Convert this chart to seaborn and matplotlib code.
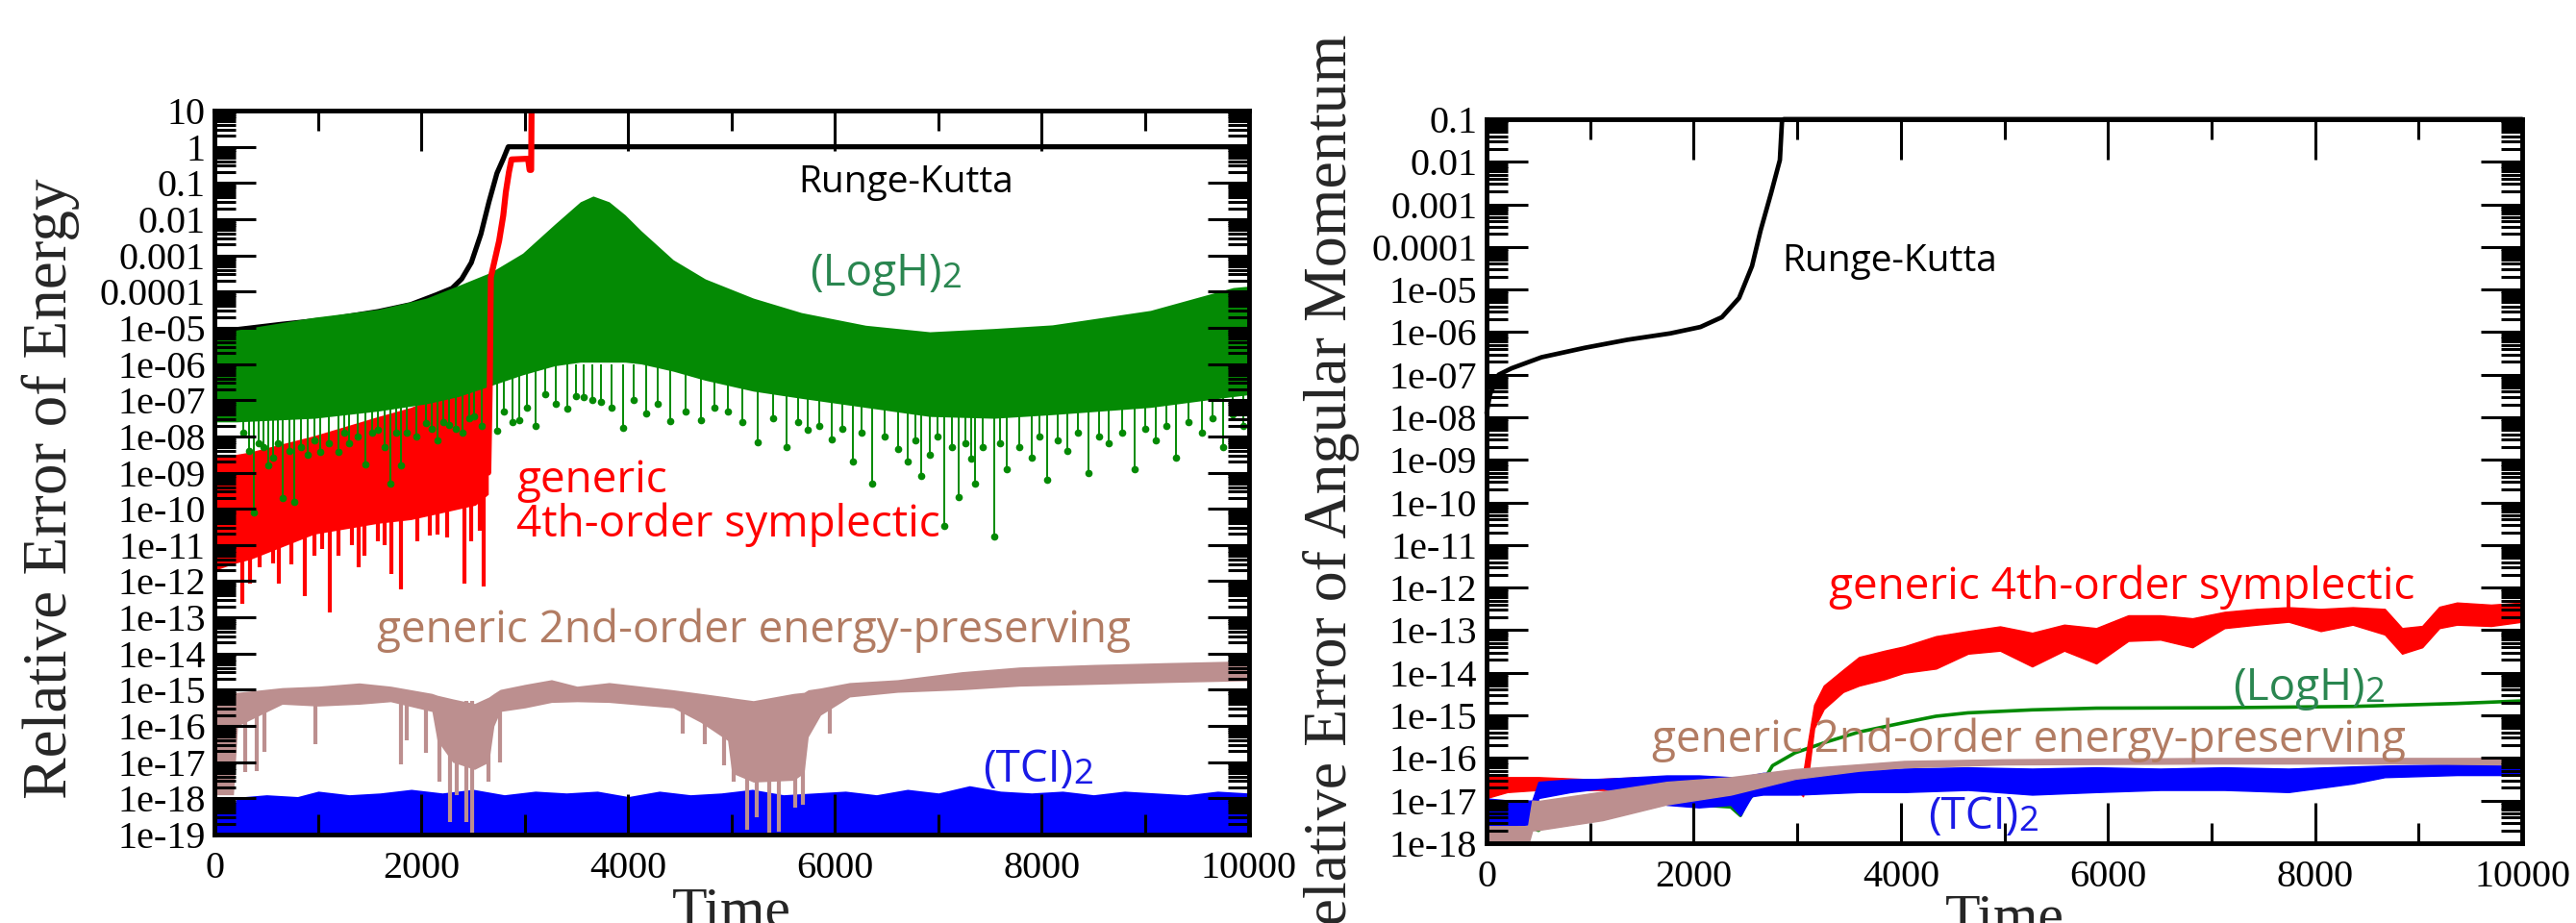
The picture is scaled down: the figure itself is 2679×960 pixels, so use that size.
import numpy as np
import pandas as pd
import seaborn as sns
import matplotlib
matplotlib.use("Agg")
import matplotlib.pyplot as plt
from matplotlib.ticker import FixedLocator, FixedFormatter, MultipleLocator, LogLocator, NullFormatter

# all error values are stored as log10 of the relative error

# ---------------- left panel: relative error of energy ----------------
rk_e_t = [0, 212, 654, 1119, 1584, 1894, 2142, 2295, 2388, 2481, 2574, 2652, 2729, 2791, 2838, 10000]
rk_e_lg = [-5.1, -5.05, -4.90, -4.76, -4.55, -4.36, -4.09, -3.91, -3.65, -3.20, -2.41, -1.52, -0.73, -0.33, 0.0, 0.0]

red_e_t = [0, 200, 340, 960, 1580, 1894, 2210, 2520, 2645]
red_e_hi = [-8.5, -8.5, -8.43, -7.98, -7.45, -7.2, -6.84, -6.57, -6.39]
red_e_lo = [-11.7, -11.5, -11.4, -10.7, -10.4, -10.3, -10.1, -9.9, -9.6]
red_spk_t = [264, 341, 434, 560, 620, 744, 868, 960, 1040, 1116, 1200, 1330, 1395, 1450, 1581,
             1640, 1705, 1798, 1960, 2077, 2150, 2250, 2418, 2480, 2560, 2604]
red_spk_lg = [-12.63, -12.06, -11.62, -11.5, -12.06, -11.53, -12.41, -11.3, -11.1, -12.86, -11.3, -11.0, -11.62, -11.3, -10.9,
              -11.0, -11.79, -12.23, -10.9, -10.73, -10.7, -10.8, -12.06, -10.9, -10.6, -12.15]
red_rise_t = [2645, 2660, 2670, 2750, 2790, 2815, 2845, 2870, 3030, 3045, 3060, 3066]
red_rise_lg = [-9.0, -6.5, -3.6, -2.6, -1.9, -1.25, -0.7, -0.35, -0.33, -0.64, -0.64, 2.0]

green_e_t = [0, 211, 962, 1582, 2047, 2357, 2667, 2977, 3287, 3535, 3659, 3814, 3969, 4124, 4434,
             4744, 5209, 5674, 6295, 6915, 7535, 8100, 9050, 9850, 10000]
green_e_hi = [-5.1, -5.06, -4.71, -4.49, -4.18, -3.83, -3.47, -2.94, -2.14, -1.52, -1.36, -1.52, -1.88, -2.32, -3.12,
              -3.65, -4.18, -4.58, -4.93, -5.11, -5.02, -4.92, -4.52, -3.89, -3.85]
green_e_lo = [-7.6, -7.6, -7.5, -7.3, -7.1, -6.9, -6.6, -6.3, -6.05, -5.95, -5.95, -5.95, -5.95, -6.0, -6.2,
              -6.45, -6.75, -6.95, -7.2, -7.45, -7.5, -7.4, -7.2, -6.9, -6.85]
# downward spikes of the (LogH)2 curve, each ends in a dot
green_spk_t = [279, 330, 377, 420, 470, 520, 560, 610, 656, 720, 772, 830, 900, 960, 1023, 1100, 1194, 1250, 1300, 1380,
               1453, 1520, 1581, 1640, 1700, 1750, 1805, 1860, 1950, 2047, 2100, 2150, 2210, 2264, 2330, 2400, 2460,
               2512, 2580, 2729, 2800, 2880, 2946, 3020, 3101, 3194, 3300, 3411, 3490, 3567, 3650, 3737, 3840, 3953,
               4050, 4171, 4280, 4404, 4550, 4698, 4830, 4962, 5100, 5256, 5400, 5535, 5640, 5737, 5850, 5969, 6070,
               6171, 6260, 6357, 6480, 6605, 6698, 6780, 6837, 6915, 6990, 7055, 7130, 7194, 7260, 7318, 7349, 7430,
               7535, 7600, 7660, 7780, 7900, 7980, 8050, 8150, 8250, 8350, 8450, 8550, 8650, 8780, 8900, 9000, 9100,
               9200, 9300, 9420, 9550, 9650, 9750, 9850, 9950]
green_spk_lg = [-7.90, -8.4, -10.11, -8.2, -8.3, -8.8, -8.6, -8.2, -9.71, -8.4, -9.80, -8.3, -8.5, -8.1, -8.43, -8.2, -8.43, -7.9, -8.2, -8.0,
                -8.78, -7.9, -7.81, -8.3, -9.31, -7.9, -8.80, -7.90, -8.0, -7.63, -7.8, -8.1, -7.6, -7.68, -7.8, -7.9, -7.5,
                -7.45, -7.7, -7.85, -7.3, -7.6, -7.54, -7.2, -7.72, -6.84, -7.1, -7.23, -6.9, -6.92, -7.0, -7.06, -7.2, -7.76,
                -7.0, -7.37, -7.1, -7.59, -7.3, -7.54, -7.2, -7.32, -7.6, -8.16, -7.5, -8.30, -7.6, -7.81, -7.7, -8.08, -7.8,
                -8.69, -7.9, -9.31, -8.0, -8.34, -8.69, -8.1, -9.09, -8.52, -8.0, -10.47, -8.3, -9.67, -8.2, -8.61, -9.31, -8.3,
                -10.77, -8.2, -8.9, -8.3, -8.6, -8.0, -9.2, -8.1, -8.4, -7.9, -9.0, -8.0, -8.2, -7.9, -8.9, -7.8, -8.1,
                -7.7, -8.6, -7.6, -7.9, -7.5, -8.3, -7.4, -7.7]

brown_e_t = [0, 180, 220, 652, 1000, 1396, 1700, 2100, 2150, 2300, 2512, 2650, 2700, 2760, 3000, 3256, 3504,
             3814, 4434, 4700, 4960, 5000, 5209, 5600, 5700, 5740, 5860, 6140, 6605, 7225, 7783, 8500, 9200, 10000]
brown_e_hi = [-15.07, -15.07, -15.07, -14.94, -14.9, -14.81, -14.9, -15.1, -15.15, -15.25, -15.38, -15.2, -15.1, -14.99, -14.85, -14.72, -14.9,
              -14.8, -15.0, -15.1, -15.2, -15.22, -15.3, -15.1, -15.07, -15.0, -14.95, -14.8, -14.72, -14.5, -14.37, -14.3, -14.25, -14.2]
brown_e_lo = [-17.9, -17.9, -16.0, -15.4, -15.45, -15.4, -15.33, -15.6, -16.4, -17.0, -17.2, -17.0, -16.0, -15.6, -15.5, -15.35, -15.33,
              -15.35, -15.5, -15.9, -16.4, -17.3, -17.55, -17.5, -17.3, -16.3, -15.7, -15.2, -15.07, -15.0, -14.9, -14.85, -14.8, -14.75]
brown_spk_t = [294, 403, 481, 977, 1799, 1860, 2047, 2171, 2279, 2341, 2434, 2490, 2651, 2760,
               4527, 4744, 4930, 5023, 5148, 5241, 5364, 5457, 5613, 5690, 5953]
brown_spk_lg = [-17.28, -17.24, -16.71, -16.49, -17.06, -16.4, -16.75, -17.55, -18.65, -17.9, -18.65, -18.96, -17.55, -17.0,
                -16.22, -16.49, -17.1, -17.55, -18.87, -18.52, -18.96, -18.92, -18.25, -18.17, -16.22]

blue_e_t = [0, 200, 210, 500, 800, 1000, 1300, 1600, 1900, 2200, 2500, 2800, 3100, 3400, 3700, 4000, 4300, 4600,
            4900, 5200, 5500, 5800, 6100, 6400, 6700, 7000, 7300, 7600, 7900, 8200, 8500, 8800, 9100, 9400, 9700, 10000]
blue_e_hi = [-18.1, -18.1, -17.97, -17.9, -17.95, -17.8, -17.9, -17.85, -17.75, -17.85, -17.75, -17.9, -17.8, -17.85, -17.8, -17.95, -17.8, -17.9,
             -17.85, -17.75, -17.9, -17.85, -17.8, -17.9, -17.75, -17.85, -17.65, -17.8, -17.85, -17.8, -17.9, -17.8, -17.85, -17.9, -17.8, -17.85]

# ---------------- right panel: relative error of angular momentum ----------------
rk_l_t = [0, 33, 117, 241, 531, 946, 1360, 1774, 2065, 2272, 2438, 2563, 2645, 2749, 2832, 2852, 2870, 10000]
rk_l_lg = [-7.9, -7.46, -7.0, -6.85, -6.59, -6.37, -6.18, -6.03, -5.88, -5.65, -5.20, -4.45, -3.62, -2.72, -1.96, -1.06, -1.0, -1.0]

red_l_t = [0, 200, 500, 1000, 1500, 2000, 2500, 3000, 3055, 3101, 3163, 3256, 3442, 3596, 3844, 4030, 4339, 4649, 4958,
           5268, 5577, 5887, 6197, 6506, 6816, 7125, 7435, 7744, 8054, 8363, 8673, 8840, 9035, 9200, 9370, 9700, 10000]
red_l_hi = [-16.37, -16.45, -16.45, -16.5, -16.45, -16.45, -16.5, -16.45, -16.4, -15.66, -14.75, -14.30, -13.93, -13.63, -13.48, -13.38, -13.14, -13.02, -12.91,
            -13.06, -12.87, -12.95, -12.65, -12.65, -12.72, -12.57, -12.50, -12.46, -12.50, -12.46, -12.50, -12.95, -12.9, -12.45, -12.35, -12.4, -12.35]
red_l_lo = [-16.94, -16.8, -16.75, -16.75, -16.75, -16.75, -16.75, -16.75, -16.9, -16.5, -15.3, -14.85, -14.45, -14.30, -14.15, -14.0, -13.9, -13.55, -13.48,
            -13.85, -13.48, -13.78, -13.25, -13.22, -13.40, -12.95, -12.87, -12.80, -13.02, -12.87, -13.10, -13.55, -13.4, -12.95, -12.87, -12.9, -12.8]

green_l_t = [0, 60, 120, 200, 260, 330, 420, 500, 650, 811, 1000, 1120, 1430, 1600, 1739, 2049, 2358, 2451, 2520,
             2600, 2668, 2761, 2977, 3287, 3596, 4030, 4339, 4649, 5268, 5887, 7125, 8363, 9370, 10000]
green_l_lg = [-17.8, -18.2, -17.6, -17.9, -17.5, -18.1, -17.6, -17.7, -17.4, -17.35, -17.3, -17.25, -17.2, -17.1, -17.05, -17.1, -17.15, -17.35, -17.0,
              -16.8, -16.56, -16.18, -15.88, -15.62, -15.39, -15.17, -15.02, -14.94, -14.87, -14.83, -14.82, -14.79, -14.72, -14.66]

brown_l_t = [0, 400, 440, 501, 1120, 1739, 2358, 2977, 3596, 4030, 5000, 7000, 9000, 9805]
brown_l_hi = [-17.6, -17.6, -17.0, -17.01, -16.79, -16.56, -16.45, -16.26, -16.15, -16.07, -16.03, -16.0, -16.0, -16.0]
brown_l_lo = [-18.1, -18.05, -17.7, -17.69, -17.46, -17.09, -16.86, -16.49, -16.30, -16.22, -16.15, -16.13, -16.13, -16.15]

blue_l_t = [0, 223, 440, 501, 811, 1120, 1430, 1739, 2049, 2358, 2451, 2560, 2668, 3000, 3596, 4030, 4649, 5268,
            5887, 6506, 7125, 7744, 8363, 8673, 9370, 10000]
blue_l_hi = [-16.95, -17.0, -17.0, -16.56, -16.5, -16.49, -16.45, -16.41, -16.41, -16.45, -16.45, -16.4, -16.35, -16.33, -16.3, -16.25, -16.22, -16.25,
             -16.22, -16.25, -16.22, -16.25, -16.2, -16.18, -16.15, -16.15]
blue_l_lo = [-17.8, -17.6, -17.55, -16.94, -16.8, -16.71, -16.9, -17.1, -17.16, -17.1, -17.35, -16.9, -16.86, -16.86, -16.8, -16.8, -16.75, -16.86,
             -16.8, -16.75, -16.75, -16.8, -16.6, -16.45, -16.4, -16.4]

# ---------------- axes text ----------------
x_ticks = [0, 2000, 4000, 6000, 8000, 10000]
x_tick_labels = ["0", "2000", "4000", "6000", "8000", "10000"]
y_exp_left = list(range(-19, 2))
y_exp_right = list(range(-18, 0))
def exp_label(e):
    if e >= 0:
        return str(10 ** e)
    if e >= -4:
        return "0." + "0" * (-e - 1) + "1"
    return "1e-%02d" % (-e)
y_labels_left = [exp_label(e) for e in y_exp_left]
y_labels_right = [exp_label(e) for e in y_exp_right]

C_RED = "#ff0000"
C_GREEN = "#048a04"
C_BROWN = "#bc8f8f"
C_BLUE = "#0000ff"
T_GREEN = "#2a8650"
T_BROWN = "#b27c63"
T_BLUE = "#1a1ae6"
SANS = ["Open Sans", "DejaVu Sans"]

sns.set_theme(style="ticks")
plt.rcParams["font.family"] = ["Liberation Serif", "DejaVu Serif"]

def L(a):
    return 10.0 ** np.asarray(a, dtype=float)

def style_axis(ax, exps, labels):
    ax.set_yscale("log")
    ax.set_xlim(0, 10000)
    ax.set_ylim(10.0 ** exps[0], 10.0 ** exps[-1])
    ax.xaxis.set_major_locator(FixedLocator(x_ticks))
    ax.xaxis.set_major_formatter(FixedFormatter(x_tick_labels))
    ax.xaxis.set_minor_locator(MultipleLocator(1000))
    ax.yaxis.set_major_locator(FixedLocator(L(exps)))
    ax.yaxis.set_major_formatter(FixedFormatter(labels))
    ax.yaxis.set_minor_locator(LogLocator(base=10, subs=np.arange(2, 10), numticks=60))
    ax.yaxis.set_minor_formatter(NullFormatter())
    ax.tick_params(which="both", direction="in", top=True, right=True, width=2.2, colors="black")
    ax.tick_params(axis="x", which="major", length=30, pad=12, labelsize=29)
    ax.tick_params(axis="x", which="minor", length=15)
    ax.tick_params(axis="y", which="major", length=31, pad=7, labelsize=29)
    ax.tick_params(axis="y", which="minor", length=16)
    for s in ax.spines.values():
        s.set_visible(True)
        s.set_linewidth(3.5)
        s.set_color("black")
    ax.set_axisbelow(False)
    ax.grid(False)

def note(ax, x, y, s, color, size, sub=None):
    t = ax.text(x, y, s, transform=ax.transAxes, color=color, fontsize=size,
                family=SANS, ha="left", va="baseline", zorder=6)
    if sub:
        ax.annotate(sub, xy=(1, 0), xycoords=t, color=color, fontsize=size * 0.8,
                    family=SANS, ha="left", va="bottom", zorder=6)
    return t

fig = plt.figure(figsize=(26.79, 9.6), dpi=100)
axL = fig.add_axes([0.0834, 0.0958, 0.4013, 0.7844])
axR = fig.add_axes([0.5771, 0.0865, 0.4020, 0.7844])
style_axis(axL, y_exp_left, y_labels_left)
style_axis(axR, y_exp_right, y_labels_right)

# ---- left panel ----
sns.lineplot(x=rk_e_t, y=L(rk_e_lg), ax=axL, color="black", lw=3.8, estimator=None, sort=False, zorder=2.0)
axL.fill_between(red_e_t, L(red_e_lo), L(red_e_hi), color=C_RED, lw=0, zorder=2.05)
axL.vlines(red_spk_t, L(red_spk_lg), 1e-9, colors=C_RED, lw=3.0, zorder=2.05)
axL.fill_between(green_e_t, L(green_e_lo), L(green_e_hi), color=C_GREEN, lw=0, zorder=2.1)
axL.vlines(green_spk_t, L(green_spk_lg), 1e-6, colors=C_GREEN, lw=1.4, zorder=2.1)
axL.plot(green_spk_t, L(green_spk_lg), "o", color=C_GREEN, ms=4.5, zorder=2.1)
sns.lineplot(x=red_rise_t, y=L(red_rise_lg), ax=axL, color=C_RED, lw=4.5, estimator=None, sort=False, zorder=2.15)
axL.fill_between(blue_e_t, 1e-21, L(blue_e_hi), color=C_BLUE, lw=0, zorder=2.2)
axL.fill_between(brown_e_t, L(brown_e_lo), L(brown_e_hi), color=C_BROWN, lw=0, zorder=2.3)
axL.vlines(brown_spk_t, L(brown_spk_lg), 10 ** -15.3, colors=C_BROWN, lw=3.0, zorder=2.3)

note(axL, 0.5644, 0.8871, "Runge-Kutta", "black", 28)
note(axL, 0.5755, 0.7583, "(LogH)", T_GREEN, 33, "2")
note(axL, 0.2918, 0.4728, "generic", C_RED, 33)
note(axL, 0.2918, 0.4117, "4th-order symplectic", C_RED, 33)
note(axL, 0.1569, 0.2656, "generic 2nd-order energy-preserving", T_BROWN, 33)
note(axL, 0.7430, 0.0730, "(TCI)", T_BLUE, 33, "2")

axL.set_xlabel("Time", fontsize=43)
axL.xaxis.set_label_coords(0.5, -0.072)
axL.set_ylabel("Relative Error of Energy", fontsize=47)
axL.yaxis.set_label_coords(-0.131, 0.478)

# ---- right panel ----
sns.lineplot(x=green_l_t, y=L(green_l_lg), ax=axR, color=C_GREEN, lw=2.6, estimator=None, sort=False, zorder=2.05)
axR.fill_between(red_l_t, L(red_l_lo), L(red_l_hi), color=C_RED, lw=1.0, edgecolor=C_RED, zorder=2.1)
axR.fill_between(blue_l_t, L(blue_l_lo), L(blue_l_hi), color=C_BLUE, lw=1.0, edgecolor=C_BLUE, zorder=2.2)
axR.fill_between(brown_l_t, L(brown_l_lo), L(brown_l_hi), color=C_BROWN, lw=1.0, edgecolor=C_BROWN, zorder=2.3)
sns.lineplot(x=rk_l_t, y=L(rk_l_lg), ax=axR, color="black", lw=3.4, estimator=None, sort=False, zorder=2.4, clip_on=False)

note(axR, 0.2851, 0.7902, "Runge-Kutta", "black", 28)
note(axR, 0.3305, 0.3373, "generic 4th-order symplectic", C_RED, 33)
note(axR, 0.7205, 0.1979, "(LogH)", T_GREEN, 33, "2")
note(axR, 0.1597, 0.1262, "generic 2nd-order energy-preserving", T_BROWN, 33)
note(axR, 0.4262, 0.0199, "(TCI)", T_BLUE, 33, "2")

axR.set_xlabel("Time", fontsize=43)
axR.xaxis.set_label_coords(0.5, -0.070)
axR.set_ylabel("Relative Error of Angular Momentum", fontsize=46)
axR.yaxis.set_label_coords(-0.123, 0.473)

fig.savefig("out.png", dpi=100, facecolor="white")
